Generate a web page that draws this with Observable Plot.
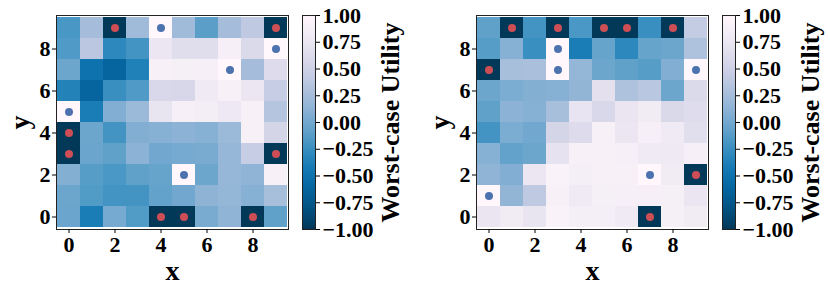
<!DOCTYPE html>
<html><head><meta charset="utf-8">
<script src="https://cdn.jsdelivr.net/npm/d3@7"></script>
<script src="https://cdn.jsdelivr.net/npm/@observablehq/plot@0.6"></script>
<style>
body{margin:0;background:#fff;}
#chart{position:relative;width:830px;height:294px;overflow:hidden;background:#fff;}
#chart svg{position:absolute;top:0;}
</style></head><body><div id="chart"></div>
<script>
const gridX = [0,1,2,3,4,5,6,7,8,9];
const gridY = [0,1,2,3,4,5,6,7,8,9];
const axisTicks = [0,2,4,6,8];
const colorbarTicks = [-1,-0.75,-0.5,-0.25,0,0.25,0.5,0.75,1];
const colorbarLabel = "Worst-case Utility";

// rows listed from y=9 (top) down to y=0
const leftRows = [
  [-0.18, 0.25, -1, 0.22, 1, 0.22, -0.1, 0.25, 0.4, -1],
  [-0.15, 0.38, -0.3, -0.2, 0.75, 0.65, 0.65, 0.88, 0.6, 1],
  [-0.02, -0.5, -0.62, -0.37, 0.9, 0.87, 0.88, 1, 0.25, 0.62],
  [-0.35, -0.62, -0.25, -0.15, 0.58, 0.57, 0.8, 0.9, 0.75, 0.45],
  [1, -0.4, 0.07, 0.2, 0.72, 0.88, 0.85, 0.78, 0.9, 0.35],
  [-1, -0.02, -0.2, 0.07, 0.1, 0.12, 0.1, 0.2, 0.9, 0.55],
  [-1, -0.03, -0.08, 0.12, 0.0, 0.02, 0.03, 0.18, 0.45, -1],
  [0.08, -0.12, -0.17, -0.08, -0.05, 1, -0.02, 0.18, 0.14, 0.9],
  [-0.02, -0.14, -0.2, -0.2, -0.07, 0.0, 0.13, 0.16, 0.1, 0.27],
  [-0.03, -0.4, 0.02, -0.14, -1, -1, 0.03, 0.14, -1, -0.08]
];
const leftRed = [[2,9],[9,9],[0,4],[0,3],[9,3],[4,0],[5,0],[8,0]];
const leftBlue = [[4,9],[9,8],[7,7],[0,5],[5,2]];

const rightRows = [
  [-0.08, -1, -0.2, -1, -0.17, -1, -1, -0.25, -1, 0.43],
  [-0.12, 0.1, -0.25, 1, -0.4, -0.05, -0.3, -0.05, -0.02, 0.3],
  [-1, 0.27, 0.28, 1, 0.16, -0.02, -0.08, -0.12, 0.07, 1],
  [-0.02, 0.04, 0.08, 0.1, 0.15, 0.68, 0.3, 0.37, -0.02, 0.6],
  [-0.08, 0.12, 0.1, 0.27, 0.73, 0.58, 0.74, 0.82, 0.59, 0.64],
  [-0.2, 0.04, 0.0, 0.55, 0.63, 0.9, 0.75, 0.88, 0.8, 0.66],
  [0.1, -0.07, -0.02, 0.7, 0.9, 0.89, 0.88, 0.8, 0.79, 0.88],
  [0.14, 0.07, 0.75, 0.92, 0.86, 0.9, 0.9, 1, 0.82, -1],
  [1, 0.15, 0.4, 0.9, 0.8, 0.87, 0.88, 0.88, 0.87, 0.74],
  [0.74, 0.82, 0.72, 0.92, 0.86, 0.86, 0.8, -1, 0.87, 0.82]
];
const rightRed = [[1,9],[3,9],[5,9],[6,9],[8,9],[0,7],[9,2],[7,0]];
const rightBlue = [[3,8],[3,7],[9,7],[0,1],[7,2]];

const FONT = "'Liberation Serif','Times New Roman',Times,serif";
const colorScale = {type: "linear", scheme: "pubu", reverse: true, domain: [-1, 1]};
const RED = "#cd4f55", BLUE = "#4c72b0";
const container = document.getElementById("chart");

function heatmap(rows, red, blue, left) {
  const cells = [];
  rows.forEach((row, i) => row.forEach((v, j) => cells.push({x: gridX[j], y: gridY[9 - i], v})));
  const svg = Plot.plot({
    width: 300, height: 294,
    marginLeft: 56, marginRight: 12, marginTop: 15, marginBottom: 65,
    style: {fontFamily: FONT, fontWeight: "bold", fontSize: "22px", color: "#000", background: "transparent", overflow: "visible"},
    x: {type: "band", domain: gridX, padding: 0, axis: null},
    y: {type: "band", domain: gridY.slice().reverse(), padding: 0, axis: null},
    color: colorScale,
    marks: [
      Plot.cell(cells, {x: "x", y: "y", fill: "v"}),
      Plot.dot(red, {x: d => d[0], y: d => d[1], r: 4, fill: RED}),
      Plot.dot(blue, {x: d => d[0], y: d => d[1], r: 4, fill: BLUE}),
      Plot.frame({stroke: "#222", strokeWidth: 1}),
      Plot.axisX({ticks: axisTicks, tickSize: 4, tickPadding: 3, label: null, fontSize: 22}),
      Plot.axisY({ticks: axisTicks, tickSize: 4, tickPadding: 2, label: null, fontSize: 22}),
      Plot.text(["x"], {frameAnchor: "bottom", dy: 50, lineAnchor: "bottom", fontSize: 28, fontWeight: "bold"}),
      Plot.text(["y"], {frameAnchor: "left", dx: -36, rotate: -90, textAnchor: "middle", lineAnchor: "middle", fontSize: 28, fontWeight: "bold"})
    ]
  });
  svg.style.left = left + "px";
  container.appendChild(svg);
}

function colorbar(left) {
  const svg = Plot.plot({
    width: 130, height: 294,
    marginLeft: 12, marginRight: 105, marginTop: 15, marginBottom: 65,
    style: {fontFamily: FONT, fontWeight: "bold", fontSize: "22px", color: "#000", background: "transparent", overflow: "visible"},
    x: {domain: [0, 1], axis: null},
    y: {domain: [-1, 1], axis: null},
    color: colorScale,
    marks: [
      Plot.raster({fill: (x, y) => y, x1: 0, x2: 1, y1: -1, y2: 1, pixelSize: 1, interpolate: "nearest"}),
      Plot.frame({stroke: "#222", strokeWidth: 1}),
      Plot.axisY({anchor: "right", ticks: colorbarTicks, tickSize: 4, tickPadding: 3, label: null, fontSize: 22,
        tickFormat: d => d.toFixed(2).replace("-", "\u2212")}),
      Plot.text([colorbarLabel], {frameAnchor: "right", dx: 75, rotate: -90, textAnchor: "middle", lineAnchor: "middle", fontSize: 26, fontWeight: "bold"})
    ]
  });
  svg.style.left = left + "px";
  container.appendChild(svg);
}

heatmap(leftRows, leftRed, leftBlue, 0);
colorbar(290);
heatmap(rightRows, rightRed, rightBlue, 420);
colorbar(710);
</script></body></html>
